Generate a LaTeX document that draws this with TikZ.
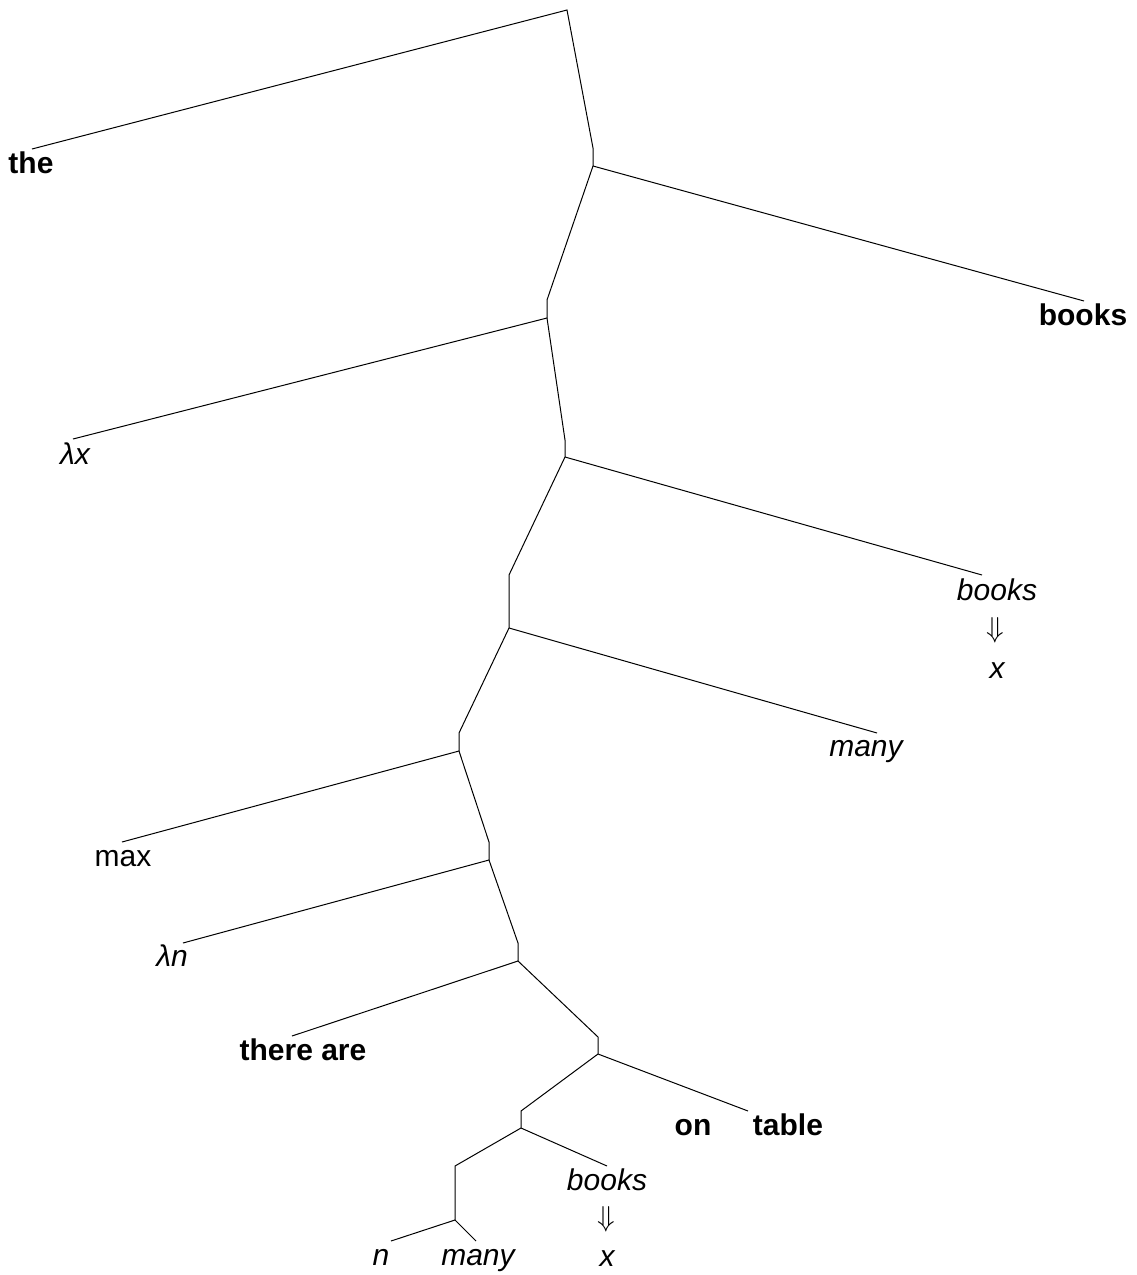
\documentclass[tikz,border=0pt]{standalone}
\usepackage{fontspec}
\setmainfont{Liberation Sans}
\begin{document}
\begin{tikzpicture}[x=0.5pt,y=-0.5pt,
  lbl/.style={inner sep=0pt,anchor=base,font=\fontsize{15}{18}\selectfont},
  bld/.style={lbl,font=\fontsize{15}{18}\selectfont\bfseries},
  itl/.style={lbl,font=\fontsize{15}{18}\selectfont\itshape},
  edge/.style={draw=black,line width=0.5pt,line join=miter}]
\useasboundingbox (0,0) rectangle (1136,1275);
% internal points
\coordinate (R) at (567,10);
\coordinate (N1t) at (593,148);  \coordinate (N1b) at (593,166);
\coordinate (N2t) at (547,300);  \coordinate (N2b) at (547,318);
\coordinate (N3t) at (565,440);  \coordinate (N3b) at (565,457);
\coordinate (N4t) at (509,575);  \coordinate (N4b) at (509,628);
\coordinate (N5t) at (459,733);  \coordinate (N5b) at (459,751);
\coordinate (N6t) at (489,842);  \coordinate (N6b) at (489,860);
\coordinate (N7t) at (518,943);  \coordinate (N7b) at (518,961);
\coordinate (N8t) at (598,1037); \coordinate (N8b) at (598,1054);
\coordinate (N9t) at (521,1111); \coordinate (N9b) at (521,1128);
\coordinate (N10t) at (455,1166); \coordinate (N10b) at (455,1220);
% leaf ends
\coordinate (eThe) at (32,149);
\coordinate (eBooks) at (1084,301);
\coordinate (eLx) at (73,439);
\coordinate (eBx) at (982,575);
\coordinate (eMany) at (877,733);
\coordinate (eMax) at (122,842);
\coordinate (eLn) at (183,943);
\coordinate (eThere) at (292,1036);
\coordinate (eOn) at (748,1111);
\coordinate (eBooks2) at (607,1166);
\coordinate (eN) at (391,1241);
\coordinate (eMany2) at (476,1241);
% labels
\node[bld] (lThe) at (31,173) {the};
\node[bld] (lBooks) at (1083,325) {books};
\node[itl] (lLx) at (75,464) {λx};
\node[itl] (lBx) at (997,600) {books};
\node[lbl] (lBxArr) at (995,637) {$\Downarrow$};
\node[itl] (lBxX) at (997,678) {x};
\node[itl] (lMany) at (866,756) {many};
\node[lbl] (lMax) at (123,866) {max};
\node[itl] (lLn) at (172,966) {λn};
\node[bld] (lThere) at (303,1060) {there are};
\node[bld] (lOn) at (693,1135) {on};
\node[bld] (lTable) at (788,1135) {table};
\node[itl] (lB2) at (607,1190) {books};
\node[lbl] (lB2Arr) at (606,1226) {$\Downarrow$};
\node[itl] (lB2X) at (607,1266) {x};
\node[itl] (lN) at (381,1265) {n};
\node[itl] (lMany2) at (478,1265) {many};
% edges
\draw[edge] (eThe) -- (R) -- (N1t) -- (N1b) -- (eBooks);
\draw[edge] (N1b) -- (N2t) -- (N2b) -- (eLx);
\draw[edge] (N2b) -- (N3t) -- (N3b) -- (eBx);
\draw[edge] (N3b) -- (N4t) -- (N4b) -- (eMany);
\draw[edge] (N4b) -- (N5t) -- (N5b) -- (eMax);
\draw[edge] (N5b) -- (N6t) -- (N6b) -- (eLn);
\draw[edge] (N6b) -- (N7t) -- (N7b) -- (eThere);
\draw[edge] (N7b) -- (N8t) -- (N8b) -- (eOn);
\draw[edge] (N8b) -- (N9t) -- (N9b) -- (eBooks2);
\draw[edge] (N9b) -- (N10t) -- (N10b) -- (eN);
\draw[edge] (N10b) -- (eMany2);
\end{tikzpicture}
\end{document}
